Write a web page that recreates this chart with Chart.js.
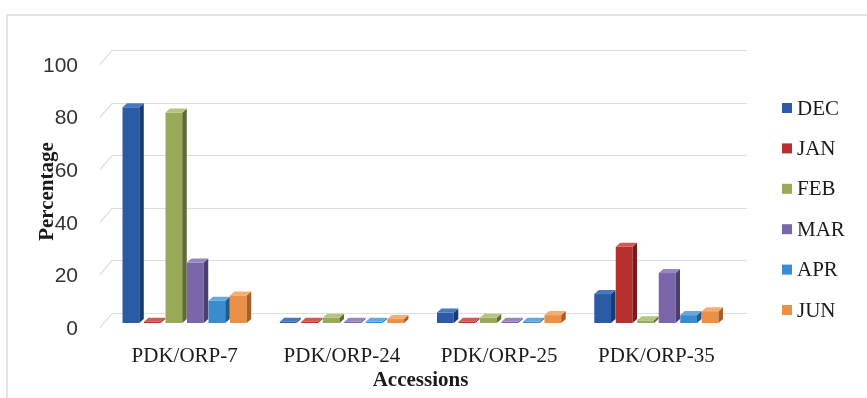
<!DOCTYPE html>
<html>
<head>
<meta charset="utf-8">
<script src="https://cdn.jsdelivr.net/npm/chart.js@4.4.1/dist/chart.umd.min.js"></script>
<style>
  html, body { margin: 0; padding: 0; background: #fff; }
  #wrap { position: relative; width: 867px; height: 398px; overflow: hidden; }
  #frame { position: absolute; left: 6px; top: 14px; right: -4px; bottom: -4px;
           border-left: 2px solid #e4e4e4; border-top: 2px solid #e4e4e4; }
  canvas { position: absolute; left: 0; top: 0; }
</style>
</head>
<body>
<div id="wrap">
  <div id="frame"></div>
  <canvas id="c" width="867" height="398"></canvas>
</div>
<script>
// Categories and series (percentage per month for each accession)
const accessions = ['PDK/ORP-7', 'PDK/ORP-24', 'PDK/ORP-25', 'PDK/ORP-35'];
const months = ['DEC', 'JAN', 'FEB', 'MAR', 'APR', 'JUN'];
const decValues = [82, 0.5, 4, 11];
const janValues = [0.5, 0.5, 0.5, 29];
const febValues = [80, 2, 2, 1];
const marValues = [23, 0.5, 0.5, 19];
const aprValues = [8.5, 0.5, 0.5, 3];
const junValues = [10.5, 1.5, 3, 4.5];
const yTickValues = [0, 20, 40, 60, 80, 100];

// Face colours: front, right side, top
const palette = [
  ['#2b5ba4', '#1a3b6e', '#4a78c0'],
  ['#b8302d', '#781c1a', '#cf5a55'],
  ['#98aa58', '#5f6b34', '#b5c57c'],
  ['#7a66a8', '#4b3f6c', '#9886c0'],
  ['#3b8bcf', '#245a8a', '#64a8de'],
  ['#ea9047', '#a65f27', '#f4ae72']
];
const seriesValues = [decValues, janValues, febValues, marValues, aprValues, junValues];

const datasets = months.map((m, i) => ({
  label: m,
  data: seriesValues[i],
  backgroundColor: palette[i][0],
  sideColor: palette[i][1],
  topColor: palette[i][2],
  borderWidth: 0
}));

const SERIF = "'Liberation Serif', 'Times New Roman', serif";
const SANS = "'Liberation Sans', Arial, sans-serif";

// Back-wall gridlines with a short slanted edge on the left wall
const wallGrid = {
  id: 'wallGrid',
  beforeDatasetsDraw(chart) {
    const { ctx, chartArea: a } = chart;
    const ys = chart.scales.y;
    const L = a.left - 6, R = a.right, dx = 12, dy = -10;
    ctx.save();
    ctx.strokeStyle = '#dedede';
    ctx.lineWidth = 1.2;
    ys.ticks.forEach(t => {
      const py = Math.round(ys.getPixelForValue(t.value)) + 0.5;
      ctx.beginPath();
      ctx.moveTo(L, py + 4);
      ctx.lineTo(L + dx, py + dy);
      ctx.lineTo(R + dx, py + dy);
      ctx.stroke();
    });
    ctx.restore();
  }
};

// Side and top faces give each column its depth
const columnDepth = {
  id: 'columnDepth',
  afterDatasetsDraw(chart) {
    const { ctx } = chart;
    const sd = 4.5, sh = 4;
    ctx.save();
    chart.data.datasets.forEach((ds, i) => {
      const meta = chart.getDatasetMeta(i);
      meta.data.forEach(bar => {
        const { x, y, base, width } = bar.getProps(['x', 'y', 'base', 'width'], true);
        const l = x - width / 2, r = x + width / 2;
        ctx.fillStyle = ds.sideColor;
        ctx.beginPath();
        ctx.moveTo(r, base);
        ctx.lineTo(r, y);
        ctx.lineTo(r + sd, y - sh);
        ctx.lineTo(r + sd, base - sh);
        ctx.closePath();
        ctx.fill();
        ctx.fillStyle = ds.topColor;
        ctx.beginPath();
        ctx.moveTo(l, y);
        ctx.lineTo(r, y);
        ctx.lineTo(r + sd, y - sh);
        ctx.lineTo(l + sd, y - sh);
        ctx.closePath();
        ctx.fill();
      });
    });
    ctx.restore();
  }
};

// Legend column on the right
const sideLegend = {
  id: 'sideLegend',
  afterDraw(chart) {
    const { ctx } = chart;
    const boxX = 782, textX = 797, firstY = 108, step = 40.4, box = 10;
    ctx.save();
    ctx.font = '21px ' + SERIF;
    ctx.textBaseline = 'middle';
    ctx.textAlign = 'left';
    chart.data.datasets.forEach((ds, i) => {
      const cy = firstY + i * step;
      ctx.fillStyle = ds.backgroundColor;
      ctx.fillRect(boxX, cy - box / 2, box, box);
      ctx.fillStyle = '#1a1a1a';
      ctx.fillText(ds.label, textX, cy + 1);
    });
    ctx.restore();
  }
};

new Chart(document.getElementById('c'), {
  type: 'bar',
  data: { labels: accessions, datasets },
  plugins: [wallGrid, columnDepth, sideLegend],
  options: {
    responsive: false,
    animation: false,
    devicePixelRatio: 1,
    layout: { padding: { left: 34, right: 132, top: 60, bottom: 0 } },
    datasets: { bar: { categoryPercentage: 0.82, barPercentage: 0.78 } },
    plugins: { legend: { display: false }, tooltip: { enabled: false } },
    scales: {
      x: {
        afterFit(scale) { scale.height = 75; },
        grid: { display: false, drawTicks: false },
        border: { display: false },
        ticks: { font: { family: SERIF, size: 21 }, color: '#1a1a1a', padding: 21, maxRotation: 0, autoSkip: false },
        title: { display: true, text: 'Accessions', font: { family: SERIF, size: 21, weight: 'bold' }, color: '#1a1a1a', padding: { top: 0, bottom: 5 } }
      },
      y: {
        min: 0,
        max: 100,
        afterFit(scale) { scale.width = 72; },
        afterBuildTicks(scale) { scale.ticks = yTickValues.map(v => ({ value: v })); },
        grid: { display: false, drawTicks: false },
        border: { display: false },
        ticks: { font: { family: SANS, size: 21 }, color: '#333', padding: 28, labelOffset: 6 },
        title: { display: true, text: 'Percentage', font: { family: SERIF, size: 21, weight: 'bold' }, color: '#1a1a1a', padding: { top: 1, bottom: 0 } }
      }
    }
  }
});
</script>
</body>
</html>
